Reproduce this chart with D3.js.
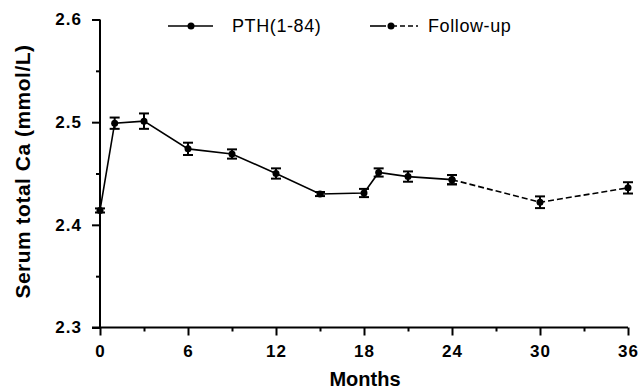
<!DOCTYPE html>
<html><head><meta charset="utf-8">
<script src="https://cdn.jsdelivr.net/npm/d3@7"></script>
<style>
html,body{margin:0;padding:0;background:#fff;}
svg{display:block;}
</style></head>
<body>
<svg id="chart" width="641" height="390"></svg>
<script>
// Data
const pthMonths = [0, 1, 3, 6, 9, 12, 15, 18, 19, 21, 24];
const pthMeans  = [2.414, 2.499, 2.501, 2.474, 2.469, 2.450, 2.430, 2.431, 2.451, 2.447, 2.444];
const pthSE     = [0.002, 0.0055, 0.0075, 0.006, 0.0045, 0.005, 0.002, 0.004, 0.004, 0.005, 0.0045];
const fuMonths  = [24, 30, 36];
const fuMeans   = [2.444, 2.422, 2.436];
const fuSE      = [0.0045, 0.0057, 0.0055];
const xTicks    = [0, 6, 12, 18, 24, 30, 36];
const xMinor    = [3, 9, 15, 21, 27, 33];
const yTicks    = [2.3, 2.4, 2.5, 2.6];
const yMinor    = [2.35, 2.45, 2.55];
const legendLabels = ["PTH(1-84)", "Follow-up"];

const svg = d3.select("#chart");
const x = d3.scaleLinear().domain([0, 36]).range([100, 628]);
const y = d3.scaleLinear().domain([2.3, 2.6]).range([327.5, 19.5]);

const font = "'Liberation Sans', Arial, sans-serif";

// Axes
const xAxis = svg.append("g").attr("transform", `translate(0,${y(2.3)})`)
  .call(d3.axisBottom(x).tickValues(xTicks).tickSize(8).tickPadding(9).tickFormat(d3.format("d")));
svg.append("g").attr("transform", `translate(0,${y(2.3)})`)
  .call(d3.axisBottom(x).tickValues(xMinor).tickSize(4).tickFormat(""))
  .call(g => g.select(".domain").remove());
const yAxis = svg.append("g").attr("transform", `translate(${x(0)},0)`)
  .call(d3.axisLeft(y).tickValues(yTicks).tickSize(8).tickPadding(10).tickFormat(d3.format(".1f")));
svg.append("g").attr("transform", `translate(${x(0)},0)`)
  .call(d3.axisLeft(y).tickValues(yMinor).tickSize(4).tickFormat(""))
  .call(g => g.select(".domain").remove());

svg.selectAll(".domain").attr("stroke", "#000").attr("stroke-width", 2);
svg.selectAll(".tick line").attr("stroke", "#000").attr("stroke-width", 2);
svg.selectAll(".tick text").attr("fill", "#000")
  .style("font-family", font).style("font-weight", "bold").style("font-size", "17px")
  .style("letter-spacing", "1px");
xAxis.select(".domain").attr("d", `M${x(0)-8},0H${x(36)}`);
yAxis.select(".domain").attr("d", `M0,${y(2.6)}V${y(2.3)}`);

// Axis titles
svg.append("text")
  .attr("transform", `translate(30,${(y(2.6)+y(2.3))/2 - 2}) rotate(-90)`)
  .attr("text-anchor", "middle")
  .style("font-family", font).style("font-weight", "bold").style("font-size", "21px")
  .style("letter-spacing", "0.5px")
  .text("Serum total Ca (mmol/L)");
svg.append("text")
  .attr("x", 365).attr("y", 386)
  .attr("text-anchor", "middle")
  .style("font-family", font).style("font-weight", "bold").style("font-size", "20px")
  .text("Months");

const line = d3.line().x(d => x(d[0])).y(d => y(d[1]));

function drawSeries(months, means, se, dashed) {
  const pts = months.map((m, i) => [m, means[i], se[i]]);
  svg.append("path").datum(pts)
    .attr("d", line).attr("fill", "none").attr("stroke", "#000")
    .attr("stroke-width", 1.6)
    .attr("stroke-dasharray", dashed ? "6,3" : null);
  const g = svg.append("g");
  pts.forEach(p => {
    const cx = x(p[0]);
    const y1 = y(p[1] + p[2]), y2 = y(p[1] - p[2]);
    g.append("line").attr("x1", cx).attr("x2", cx).attr("y1", y1).attr("y2", y2)
      .attr("stroke", "#000").attr("stroke-width", 2);
    [y1, y2].forEach(yy => g.append("line").attr("x1", cx - 5).attr("x2", cx + 5)
      .attr("y1", yy).attr("y2", yy).attr("stroke", "#000").attr("stroke-width", 2));
    g.append("circle").attr("cx", cx).attr("cy", y(p[1])).attr("r", 3.5).attr("fill", "#000");
  });
}
drawSeries(pthMonths, pthMeans, pthSE, false);
drawSeries(fuMonths, fuMeans, fuSE, true);

// Legend
const leg = svg.append("g");
leg.append("line").attr("x1", 168).attr("x2", 213).attr("y1", 26).attr("y2", 26)
  .attr("stroke", "#000").attr("stroke-width", 1.6);
leg.append("circle").attr("cx", 191).attr("cy", 26).attr("r", 3.5).attr("fill", "#000");
leg.append("text").attr("x", 232).attr("y", 32)
  .style("font-family", font).style("font-size", "18px").style("letter-spacing", "0.6px")
  .text(legendLabels[0]);
leg.append("line").attr("x1", 370).attr("x2", 386).attr("y1", 26).attr("y2", 26)
  .attr("stroke", "#000").attr("stroke-width", 1.6);
leg.append("line").attr("x1", 392).attr("x2", 418).attr("y1", 26).attr("y2", 26)
  .attr("stroke", "#000").attr("stroke-width", 1.6).attr("stroke-dasharray", "5,3");
leg.append("circle").attr("cx", 391).attr("cy", 26).attr("r", 3.5).attr("fill", "#000");
leg.append("text").attr("x", 428).attr("y", 32)
  .style("font-family", font).style("font-size", "18px").style("letter-spacing", "0.6px")
  .text(legendLabels[1]);
</script>
</body></html>
